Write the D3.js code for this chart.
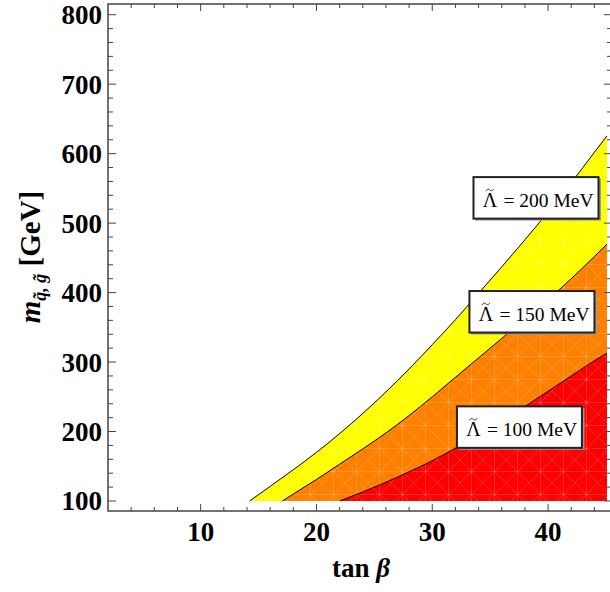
<!DOCTYPE html>
<html>
<head>
<meta charset="utf-8">
<script src="https://cdn.jsdelivr.net/npm/d3@7"></script>
<style>
  body { margin: 0; background: #fff; }
  svg { display: block; }
</style>
</head>
<body>
<div id="chart"></div>
<script>
// boundary curves m(tan beta) for each Lambda-tilde value
var tb200 = [14.23, 16, 18, 20, 22, 24, 26, 28, 30, 32, 34, 36, 38, 40, 42, 44, 45.1];
var m200  = [100, 121, 145, 170, 197, 226, 257, 290, 325, 361, 399, 437, 476, 516, 558, 602, 626];

var tb150 = [17.06, 18, 20, 22, 24, 26, 28, 30, 32, 34, 36, 38, 40, 42, 44, 45.1];
var m150  = [100, 110, 131, 153, 175, 198, 223, 250, 278, 306, 334, 362, 390, 420, 452, 470];

var tb100 = [22.02, 24, 26, 28, 30, 32, 34, 36, 38, 40, 42, 44, 45.1];
var m100  = [100, 113, 127, 142, 158, 176, 194, 214, 236, 258, 280, 302, 313];

var labelText = ["200 MeV", "150 MeV", "100 MeV"];
var labelTb   = [39.0, 38.65, 37.57];
var labelM    = [536, 372, 206];

var xMajor = [10, 20, 30, 40];
var yMajor = [100, 200, 300, 400, 500, 600, 700, 800];

(function() {
var width = 610, height = 592;
var pL = 108, pR = 612, pT = 4, pB = 511;

var x = d3.scaleLinear().domain([2, 45.52]).range([pL, pR]);
var y = d3.scaleLinear().domain([85.6, 815.4]).range([pB, pT]);

var svg = d3.select("#chart").append("svg")
    .attr("width", width)
    .attr("height", height);

var defs = svg.append("defs");
defs.append("clipPath").attr("id", "plotclip")
  .append("rect")
    .attr("x", pL).attr("y", pT)
    .attr("width", 607 - pL).attr("height", pB - pT);

// faint mesh lines like the ones in the original fills
var pat = defs.append("pattern")
    .attr("id", "mesh")
    .attr("patternUnits", "userSpaceOnUse")
    .attr("width", 23).attr("height", 23);
pat.append("path")
    .attr("d", "M0,0L23,23M23,0L0,23M11.5,0V23M0,11.5H23")
    .attr("stroke", "#fff")
    .attr("stroke-opacity", 0.22)
    .attr("stroke-width", 0.8);

var curves = [
  { tb: tb200, m: m200, color: "#ffff00" },
  { tb: tb150, m: m150, color: "#ff8000" },
  { tb: tb100, m: m100, color: "#ff0000" }
];

var area = d3.area()
    .x(function(d) { return x(d[0]); })
    .y0(y(100))
    .y1(function(d) { return y(d[1]); })
    .curve(d3.curveMonotoneX);

var line = d3.line()
    .x(function(d) { return x(d[0]); })
    .y(function(d) { return y(d[1]); })
    .curve(d3.curveMonotoneX);

var plot = svg.append("g").attr("clip-path", "url(#plotclip)");

curves.forEach(function(c) {
  var pts = c.tb.map(function(t, i) { return [t, c.m[i]]; });
  plot.append("path").attr("d", area(pts)).attr("fill", c.color);
  plot.append("path").attr("d", area(pts)).attr("fill", "url(#mesh)");
  c.pts = pts;
});
curves.forEach(function(c) {
  plot.append("path").attr("d", line(c.pts))
    .attr("fill", "none").attr("stroke", "#000").attr("stroke-width", 1);
});

// frame + ticks (all pointing inward)
var axisCol = "#444";
var frame = svg.append("g");
frame.append("rect")
    .attr("x", pL).attr("y", pT)
    .attr("width", pR - pL).attr("height", pB - pT)
    .attr("fill", "none").attr("stroke", axisCol).attr("stroke-width", 1.5);

var xMinor = d3.range(4, 46, 2).filter(function(v) { return xMajor.indexOf(v) < 0; });
var yMinor = d3.range(100, 815, 20).filter(function(v) { return yMajor.indexOf(v) < 0; });

function xticks(vals, len) {
  vals.forEach(function(v) {
    frame.append("line").attr("x1", x(v)).attr("x2", x(v))
      .attr("y1", pB).attr("y2", pB - len)
      .attr("stroke", axisCol).attr("stroke-width", 1);
    frame.append("line").attr("x1", x(v)).attr("x2", x(v))
      .attr("y1", pT).attr("y2", pT + len)
      .attr("stroke", axisCol).attr("stroke-width", 1);
  });
}
function yticks(vals, len) {
  vals.forEach(function(v) {
    frame.append("line").attr("x1", pL).attr("x2", pL + len)
      .attr("y1", y(v)).attr("y2", y(v))
      .attr("stroke", axisCol).attr("stroke-width", 1);
    frame.append("line").attr("x1", pR).attr("x2", pR - len)
      .attr("y1", y(v)).attr("y2", y(v))
      .attr("stroke", axisCol).attr("stroke-width", 1);
  });
}
xticks(xMajor, 7); xticks(xMinor, 4);
yticks(yMajor, 8); yticks(yMinor, 5);

var serif = "'Liberation Serif', 'Times New Roman', serif";

svg.append("g").selectAll("text").data(xMajor).enter().append("text")
    .attr("x", function(d) { return x(d); })
    .attr("y", 540.5)
    .attr("text-anchor", "middle")
    .style("font-family", serif).style("font-weight", "bold").style("font-size", "27px")
    .text(function(d) { return d; });

svg.append("g").selectAll("text").data(yMajor).enter().append("text")
    .attr("x", 102)
    .attr("y", function(d) { return y(d) + 9.5; })
    .attr("text-anchor", "end")
    .style("font-family", serif).style("font-weight", "bold").style("font-size", "27px")
    .text(function(d) { return d; });

// axis titles
var xt = svg.append("text")
    .attr("x", 361).attr("y", 577)
    .attr("text-anchor", "middle")
    .style("font-family", serif).style("font-weight", "bold").style("font-size", "27px");
xt.append("tspan").text("tan ");
xt.append("tspan").style("font-style", "italic").text("\u03b2");

var yt = svg.append("text")
    .attr("transform", "translate(40,257) rotate(-90)")
    .attr("text-anchor", "middle")
    .style("font-family", serif).style("font-weight", "bold").style("font-size", "29px");
yt.append("tspan").style("font-style", "italic").text("m");
yt.append("tspan").attr("dy", 6).style("font-style", "italic").style("font-size", "18px")
  .text("q\u0303, g\u0303");
yt.append("tspan").attr("dy", -6).text(" [GeV]");

// label boxes
var lab = svg.append("g").selectAll("g").data(labelText).enter().append("g")
    .attr("transform", function(d, i) { return "translate(" + x(labelTb[i]) + "," + y(labelM[i]) + ")"; });
lab.append("rect")
    .attr("x", -61.5).attr("y", -19.5).attr("width", 126).attr("height", 42)
    .attr("fill", "#999");
lab.append("rect")
    .attr("x", -63).attr("y", -21).attr("width", 125).attr("height", 41.5)
    .attr("fill", "#fff").attr("stroke", "#222").attr("stroke-width", 2);
lab.append("path")
    .attr("d", "M-50.5,-7C-49.2,-9.6 -47.6,-9 -46.6,-8.2S-44,-6.6 -42.6,-9.2")
    .attr("fill", "none").attr("stroke", "#000").attr("stroke-width", 0.8);
lab.append("text")
    .attr("x", -33).attr("y", 9)
    .style("font-family", serif).style("font-size", "19.5px")
    .text(function(d) { return "=\u00a0" + d; });
lab.append("text")
    .attr("x", -46.5).attr("y", 9)
    .attr("text-anchor", "middle")
    .style("font-family", serif).style("font-size", "20px")
    .text("\u039b");
})();
</script>
</body>
</html>
